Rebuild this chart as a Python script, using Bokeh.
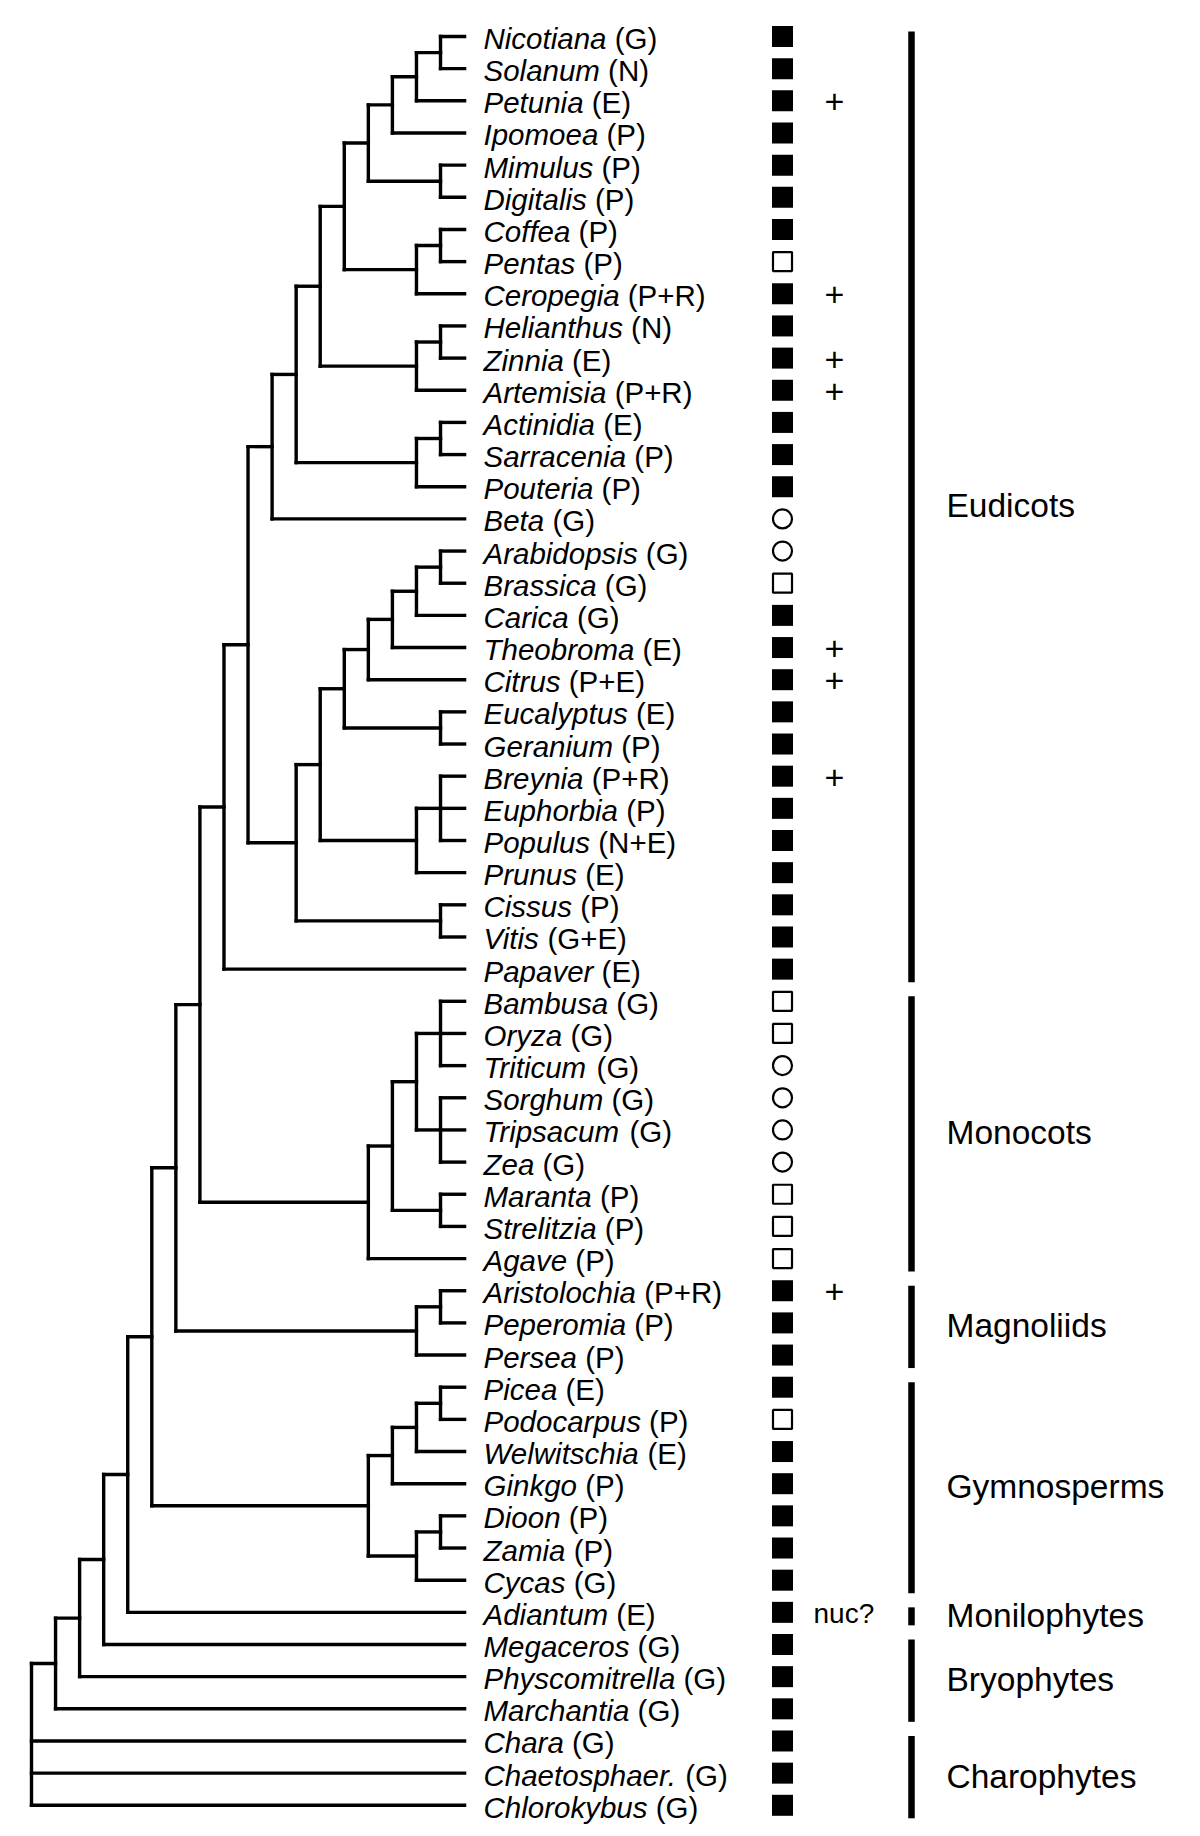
from bokeh.plotting import figure
from bokeh.models import Range1d, ColumnDataSource
from bokeh.core.properties import value
from bokeh.embed import file_html
from bokeh.resources import INLINE

# ---------------- data ----------------
asterids = ("((((((((Nicotiana,Solanum),Petunia),Ipomoea),(Mimulus,Digitalis)),"
            "((Coffea,Pentas),Ceropegia)),((Helianthus,Zinnia),Artemisia)),"
            "((Actinidia,Sarracenia),Pouteria)),Beta)")
rosids = ("(((((((Arabidopsis,Brassica),Carica),Theobroma),Citrus),(Eucalyptus,Geranium)),"
          "((Breynia,Euphorbia,Populus),Prunus)),(Cissus,Vitis))")
monocots = "((((Bambusa,Oryza,Triticum),(Sorghum,Tripsacum,Zea)),(Maranta,Strelitzia)),Agave)"
magnoliids = "((Aristolochia,Peperomia),Persea)"
gymnosperms = "((((Picea,Podocarpus),Welwitschia),Ginkgo),((Dioon,Zamia),Cycas))"
newick = ("((((((((((" + asterids + "," + rosids + "),Papaver)," + monocots + "),"
          + magnoliids + ")," + gymnosperms + "),Adiantum),Megaceros),Physcomitrella),"
          "Marchantia),Chara,Chaetosphaer.,Chlorokybus)")

taxa = ["Nicotiana", "Solanum", "Petunia", "Ipomoea", "Mimulus", "Digitalis", "Coffea",
        "Pentas", "Ceropegia", "Helianthus", "Zinnia", "Artemisia", "Actinidia", "Sarracenia",
        "Pouteria", "Beta", "Arabidopsis", "Brassica", "Carica", "Theobroma", "Citrus",
        "Eucalyptus", "Geranium", "Breynia", "Euphorbia", "Populus", "Prunus", "Cissus",
        "Vitis", "Papaver", "Bambusa", "Oryza", "Triticum", "Sorghum", "Tripsacum", "Zea",
        "Maranta", "Strelitzia", "Agave", "Aristolochia", "Peperomia", "Persea", "Picea",
        "Podocarpus", "Welwitschia", "Ginkgo", "Dioon", "Zamia", "Cycas", "Adiantum",
        "Megaceros", "Physcomitrella", "Marchantia", "Chara", "Chaetosphaer.", "Chlorokybus"]

genome = ["G", "N", "E", "P", "P", "P", "P",
          "P", "P+R", "N", "E", "P+R", "E", "P",
          "P", "G", "G", "G", "G", "E", "P+E",
          "E", "P", "P+R", "P", "N+E", "E", "P",
          "G+E", "E", "G", "G", "G", "G", "G", "G",
          "P", "P", "P", "P+R", "P", "P", "E",
          "P", "E", "P", "P", "P", "G", "E",
          "G", "G", "G", "G", "G", "G"]

# F = filled square, S = open square, C = open circle
status = ["F", "F", "F", "F", "F", "F", "F",
          "S", "F", "F", "F", "F", "F", "F",
          "F", "C", "C", "S", "F", "F", "F",
          "F", "F", "F", "F", "F", "F", "F",
          "F", "F", "S", "S", "C", "C", "C", "C",
          "S", "S", "S", "F", "F", "F", "F",
          "S", "F", "F", "F", "F", "F", "F",
          "F", "F", "F", "F", "F", "F"]

plus_taxa = ["Petunia", "Ceropegia", "Zinnia", "Artemisia", "Theobroma", "Citrus",
             "Breynia", "Aristolochia"]
note_taxa = ["Adiantum"]
note_text = ["nuc?"]

clade_names = ["Eudicots", "Monocots", "Magnoliids", "Gymnosperms", "Monilophytes",
               "Bryophytes", "Charophytes"]
clade_first = ["Nicotiana", "Bambusa", "Aristolochia", "Picea", "Adiantum", "Megaceros", "Chara"]
clade_last = ["Papaver", "Agave", "Persea", "Cycas", "Adiantum", "Marchantia", "Chlorokybus"]

# ---------------- tree layout ----------------
def parse(s):
    pos = 0
    def node():
        nonlocal pos
        if s[pos] == "(":
            pos += 1
            kids = [node()]
            while s[pos] == ",":
                pos += 1
                kids.append(node())
            pos += 1
            return kids
        start = pos
        while pos < len(s) and s[pos] not in "(),":
            pos += 1
        return s[start:pos]
    return node()

tree = parse(newick)

def height(n):
    return 0 if isinstance(n, str) else 1 + max(height(c) for c in n)

H = height(tree)
leaves = []
sx0, sy0, sx1, sy1 = [], [], [], []

def layout(n):
    if isinstance(n, str):
        y = len(leaves)
        leaves.append(n)
        return H, y
    pts = [layout(c) for c in n]
    x = H - height(n)
    y = (pts[0][1] + pts[-1][1]) / 2
    sx0.append(x); sy0.append(pts[0][1]); sx1.append(x); sy1.append(pts[-1][1])
    for cx, cy in pts:
        sx0.append(x); sy0.append(cy); sx1.append(cx); sy1.append(cy)
    return x, y

layout(tree)
assert leaves == taxa, leaves
row = {t: i for i, t in enumerate(taxa)}

# ---------------- geometry (pixel scales) ----------------
S = 24.06   # px per tree level
R = 32.16   # px per row
X0, Y0 = 31.0, 36.0  # canvas position of root / first row
W, Hh = 1200, 1836

def lx(px):
    return (px - X0) / S

p = figure(width=W, height=Hh, output_backend="svg", toolbar_location=None,
           x_range=Range1d(lx(0), lx(W)),
           y_range=Range1d((Hh - Y0) / R, (0 - Y0) / R),
           min_border=0, min_border_left=0, min_border_right=0,
           min_border_top=0, min_border_bottom=0)
p.axis.visible = False
p.grid.visible = False
p.outline_line_color = None
p.background_fill_color = "white"
p.border_fill_color = "white"

FONT = value("Liberation Sans")

# tree branches
p.segment(x0=sx0, y0=sy0, x1=sx1, y1=sy1, line_color="black", line_width=3.4,
          line_cap="square")

# taxon labels: italic genus + regular suffix
AW = {' ': 278, '(': 333, ')': 333, '+': 584, '.': 278, '?': 556,
      'A': 667, 'B': 667, 'C': 722, 'D': 722, 'E': 667, 'F': 611, 'G': 778, 'H': 722,
      'I': 278, 'J': 500, 'K': 667, 'L': 556, 'M': 833, 'N': 722, 'O': 778, 'P': 667,
      'Q': 778, 'R': 722, 'S': 667, 'T': 611, 'U': 722, 'V': 667, 'W': 944, 'X': 667,
      'Y': 667, 'Z': 611,
      'a': 556, 'b': 556, 'c': 500, 'd': 556, 'e': 556, 'f': 278, 'g': 556, 'h': 556,
      'i': 222, 'j': 222, 'k': 500, 'l': 222, 'm': 833, 'n': 556, 'o': 556, 'p': 556,
      'q': 556, 'r': 333, 's': 500, 't': 278, 'u': 556, 'v': 500, 'w': 722, 'x': 500,
      'y': 500, 'z': 500}
FS = 29.5

def tw(s):
    return sum(AW.get(ch, 556) for ch in s) / 1000 * FS

lab_x = lx(483)
ys = [row[t] + 2.0 / R for t in taxa]
p.text(x=[lab_x] * len(taxa), y=ys, text=taxa, text_font=FONT,
       text_font_style="italic", text_font_size=f"{FS}px", text_baseline="middle",
       text_align="left", text_color="black")
suf_src = ColumnDataSource(dict(x=[lab_x + tw(t + " ") / S for t in taxa], y=ys,
                                text=[f"({g})" for g in genome]))
p.text(x="x", y="y", text="text", source=suf_src, text_font=FONT,
       text_font_size=f"{FS}px", text_baseline="middle", text_align="left",
       text_color="black")

# status markers
mx = lx(782)
f_rows = [row[t] for t, s in zip(taxa, status) if s == "F"]
s_rows = [row[t] for t, s in zip(taxa, status) if s == "S"]
c_rows = [row[t] for t, s in zip(taxa, status) if s == "C"]
p.scatter(x=[mx] * len(f_rows), y=f_rows, marker="square", size=21,
          fill_color="black", line_color=None)
p.scatter(x=[mx] * len(s_rows), y=s_rows, marker="square", size=19,
          fill_color="white", line_color="black", line_width=2.2)
p.scatter(x=[mx] * len(c_rows), y=c_rows, marker="circle", size=19,
          fill_color="white", line_color="black", line_width=2.2)

# plus signs and note
p.text(x=[lx(834)] * len(plus_taxa), y=[row[t] + 1.0 / R for t in plus_taxa],
       text=["+"] * len(plus_taxa), text_font=FONT, text_font_size="34px",
       text_baseline="middle", text_align="center", text_color="black")
p.text(x=[lx(813)] * len(note_taxa), y=[row[t] + 1.0 / R for t in note_taxa],
       text=note_text, text_font=FONT, text_font_size="28px",
       text_baseline="middle", text_align="left", text_color="black")

# clade bars and labels
bx = lx(911)
b_y0 = [row[a] - 5.0 / R for a in clade_first]
b_y1 = [row[b] + 13.0 / R for b in clade_last]
p.segment(x0=[bx] * len(clade_names), y0=b_y0, x1=[bx] * len(clade_names), y1=b_y1,
          line_color="black", line_width=6.5, line_cap="butt")
cy = [(row[a] + row[b]) / 2 + 3.0 / R for a, b in zip(clade_first, clade_last)]
p.text(x=[lx(946)] * len(clade_names), y=cy, text=clade_names, text_font=FONT,
       text_font_size="33.5px", text_baseline="middle", text_align="left",
       text_color="black")

open("out.html", "w").write(file_html(p, INLINE))
